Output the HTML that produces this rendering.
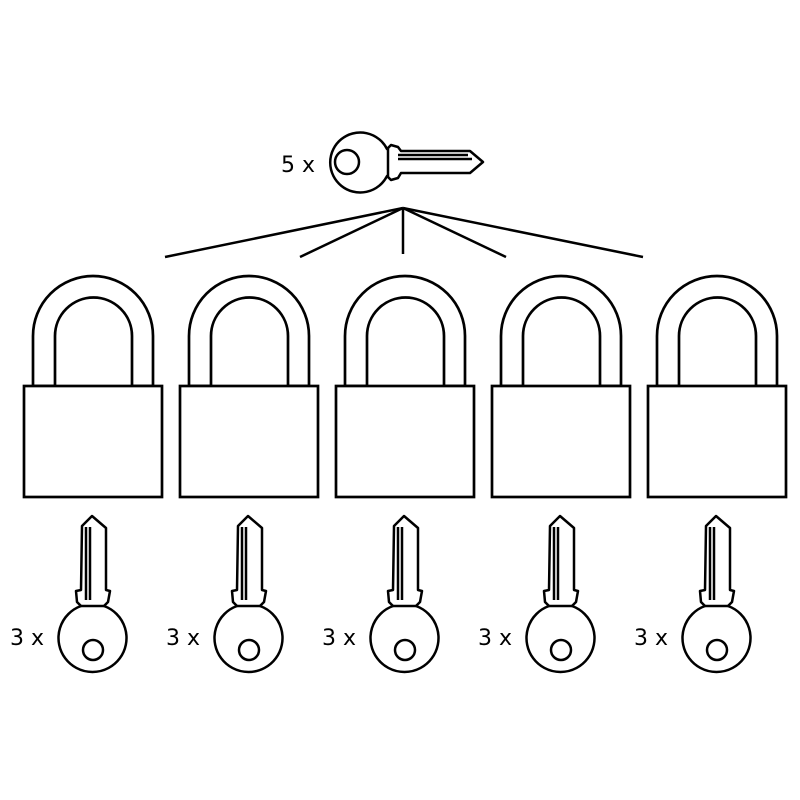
<!DOCTYPE html>
<html><head><style>body{margin:0;background:#fff}svg{display:block}</style></head>
<body>
<svg width="800" height="800" viewBox="0 0 800 800" xmlns="http://www.w3.org/2000/svg">
<defs>
<g id="lock" fill="#fff" stroke="#000" stroke-width="2.7">
<path d="M33 386 V336 A60 60 0 0 1 153 336 V386 H132 V336 A38.5 38.5 0 0 0 55 336 V386 Z"/>
<rect x="24" y="386" width="138" height="111"/>
</g>
<g id="bkey" fill="#fff" stroke="#000" stroke-width="2.5" stroke-linejoin="round">
<path d="M82 526 L92 516 L106 528 V590 L110 591 L108 602 L104 606 A34 34 0 1 1 81 606 L77 602 L76 591 L81 590 Z"/>
<path d="M86 527 V600 M90 527 V600" fill="none"/>
<path d="M80 606 H105" fill="none"/>
<circle cx="93" cy="650" r="10"/>
</g>
</defs>
<g stroke="#000" stroke-width="2.5">
<line x1="403" y1="208" x2="165" y2="257"/>
<line x1="403" y1="208" x2="300" y2="257"/>
<line x1="403" y1="208" x2="403" y2="254"/>
<line x1="403" y1="208" x2="506" y2="257"/>
<line x1="403" y1="208" x2="643" y2="257"/>
</g>
<g fill="#fff" stroke="#000" stroke-width="2.5" stroke-linejoin="round">
<path d="M387 149 A30 30 0 1 0 387 176 L391 180 L398 178 L401 173 H470 L483 162 L470 151 H401 L398 147 L391 145 Z"/>
<path d="M398 155 H468 M398 159 H472" fill="none"/>
<path d="M388 148 V177" fill="none"/>
<circle cx="347" cy="162" r="12"/>
</g>
<g font-family="DejaVu Sans, sans-serif" font-size="22" fill="#000">
<text x="281" y="172">5 x</text>
<text x="10" y="645">3 x</text>
<text x="166" y="645">3 x</text>
<text x="322" y="645">3 x</text>
<text x="478" y="645">3 x</text>
<text x="634" y="645">3 x</text>
</g>
<use href="#lock"/><use href="#lock" x="156"/><use href="#lock" x="312"/><use href="#lock" x="468"/><use href="#lock" x="624"/>
<use href="#bkey"/><use href="#bkey" x="156"/><use href="#bkey" x="312"/><use href="#bkey" x="468"/><use href="#bkey" x="624"/>
</svg>
</body></html>
